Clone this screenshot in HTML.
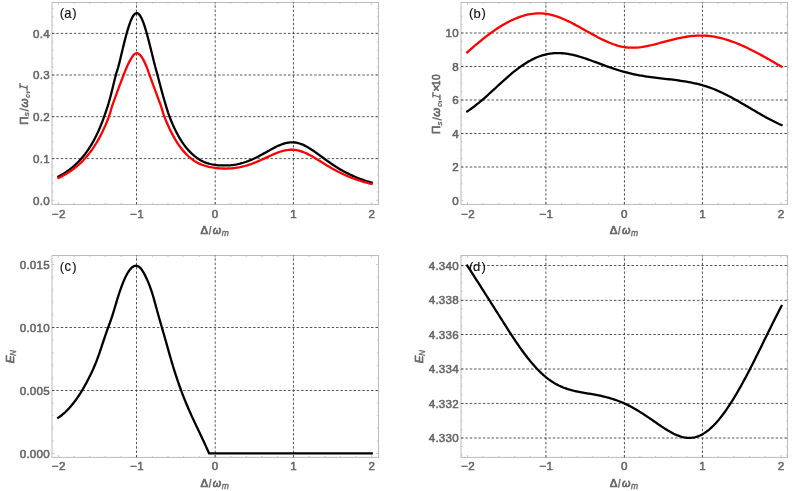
<!DOCTYPE html>
<html><head><meta charset="utf-8"><title>Figure</title>
<style>
html,body{margin:0;padding:0;background:#fff;}
svg{display:block;will-change:transform;}
text{font-family:"Liberation Sans",sans-serif;}
.grid{fill:none;stroke:#2c2c2c;stroke-width:0.8;stroke-dasharray:2.45 1.92;}
.tick{fill:none;stroke:#bebebe;stroke-width:0.8;}
.frame{fill:none;stroke:#bbbbbb;stroke-width:1;}
.tl{font-size:11.6px;fill:#666666;stroke:#666666;stroke-width:0.55;stroke-linejoin:round;letter-spacing:0.2px;}
.al{fill:#666666;stroke:#666666;stroke-width:0.7;stroke-linejoin:round;}
.sb{stroke-width:0.35;}
.tag{font-size:13px;fill:#111;stroke:#111;stroke-width:0.15;stroke-linejoin:round;}
</style></head>
<body>
<svg width="793" height="491" viewBox="0 0 793 491">
<rect width="793" height="491" fill="#ffffff"/>
<g>
<path d="M58.35 204.40v-2.4M58.35 2.50v2.4M74.02 204.40v-1.5M74.02 2.50v1.5M89.69 204.40v-1.5M89.69 2.50v1.5M105.35 204.40v-1.5M105.35 2.50v1.5M121.02 204.40v-1.5M121.02 2.50v1.5M136.69 204.40v-2.4M136.69 2.50v2.4M152.36 204.40v-1.5M152.36 2.50v1.5M168.03 204.40v-1.5M168.03 2.50v1.5M183.69 204.40v-1.5M183.69 2.50v1.5M199.36 204.40v-1.5M199.36 2.50v1.5M215.03 204.40v-2.4M215.03 2.50v2.4M230.70 204.40v-1.5M230.70 2.50v1.5M246.37 204.40v-1.5M246.37 2.50v1.5M262.03 204.40v-1.5M262.03 2.50v1.5M277.70 204.40v-1.5M277.70 2.50v1.5M293.37 204.40v-2.4M293.37 2.50v2.4M309.04 204.40v-1.5M309.04 2.50v1.5M324.71 204.40v-1.5M324.71 2.50v1.5M340.37 204.40v-1.5M340.37 2.50v1.5M356.04 204.40v-1.5M356.04 2.50v1.5M371.71 204.40v-2.4M371.71 2.50v2.4M52.00 200.30h2.4M378.50 200.30h-2.4M52.00 191.95h1.5M378.50 191.95h-1.5M52.00 183.61h1.5M378.50 183.61h-1.5M52.00 175.26h1.5M378.50 175.26h-1.5M52.00 166.92h1.5M378.50 166.92h-1.5M52.00 158.57h2.4M378.50 158.57h-2.4M52.00 150.22h1.5M378.50 150.22h-1.5M52.00 141.88h1.5M378.50 141.88h-1.5M52.00 133.53h1.5M378.50 133.53h-1.5M52.00 125.19h1.5M378.50 125.19h-1.5M52.00 116.84h2.4M378.50 116.84h-2.4M52.00 108.49h1.5M378.50 108.49h-1.5M52.00 100.15h1.5M378.50 100.15h-1.5M52.00 91.80h1.5M378.50 91.80h-1.5M52.00 83.46h1.5M378.50 83.46h-1.5M52.00 75.11h2.4M378.50 75.11h-2.4M52.00 66.76h1.5M378.50 66.76h-1.5M52.00 58.42h1.5M378.50 58.42h-1.5M52.00 50.07h1.5M378.50 50.07h-1.5M52.00 41.73h1.5M378.50 41.73h-1.5M52.00 33.38h2.4M378.50 33.38h-2.4M52.00 25.03h1.5M378.50 25.03h-1.5M52.00 16.69h1.5M378.50 16.69h-1.5M52.00 8.34h1.5M378.50 8.34h-1.5" class="tick"/>
<rect x="52.00" y="2.50" width="326.50" height="201.90" class="frame"/>
<path d="M136.50 204.40V2.50M215.20 204.40V2.50M293.45 204.40V2.50M52.00 158.60H378.50M52.00 116.65H378.50M52.00 75.00H378.50M52.00 33.40H378.50" class="grid"/>
<path d="M58.50 176.62 L60.07 175.74 L61.63 174.83 L63.20 173.88 L64.76 172.89 L66.33 171.84 L67.89 170.75 L69.46 169.60 L71.02 168.39 L72.59 167.12 L74.16 165.78 L75.72 164.37 L77.29 162.88 L78.85 161.30 L80.42 159.63 L81.98 157.86 L83.55 155.98 L85.11 153.99 L86.68 151.88 L88.24 149.63 L89.81 147.24 L91.38 144.69 L92.94 141.98 L94.51 139.09 L96.07 136.02 L97.64 132.74 L99.20 129.24 L100.77 125.51 L102.33 121.55 L103.90 117.33 L105.47 112.92 L107.03 108.30 L108.60 103.31 L110.16 97.74 L111.73 91.66 L113.29 85.28 L114.86 78.83 L116.42 72.89 L117.99 67.98 L119.55 62.16 L121.12 55.54 L122.69 48.99 L124.25 42.62 L125.82 36.56 L127.38 30.93 L128.95 25.82 L130.51 21.39 L132.08 17.79 L133.64 15.14 L135.21 13.54 L136.78 13.06 L138.34 13.69 L139.91 15.39 L141.47 18.10 L143.04 21.72 L144.60 26.15 L146.17 31.25 L147.73 36.89 L149.30 42.92 L150.86 49.20 L152.43 55.59 L154.00 61.98 L155.56 68.01 L157.13 73.57 L158.69 79.58 L160.26 85.57 L161.82 91.41 L163.39 97.04 L164.95 102.40 L166.52 107.56 L168.09 112.56 L169.65 117.01 L171.22 120.96 L172.78 124.65 L174.35 128.10 L175.91 131.31 L177.48 134.31 L179.04 137.11 L180.61 139.71 L182.17 142.13 L183.74 144.38 L185.31 146.47 L186.87 148.41 L188.44 150.21 L190.00 151.88 L191.57 153.43 L193.13 154.87 L194.70 156.19 L196.26 157.42 L197.83 158.55 L199.40 159.57 L200.96 160.47 L202.53 161.27 L204.09 161.97 L205.66 162.59 L207.22 163.13 L208.79 163.59 L210.35 164.00 L211.92 164.35 L213.48 164.65 L215.05 164.91 L216.62 165.12 L218.18 165.26 L219.75 165.35 L221.31 165.41 L222.88 165.43 L224.44 165.44 L226.01 165.45 L227.57 165.42 L229.14 165.34 L230.71 165.23 L232.27 165.06 L233.84 164.86 L235.40 164.61 L236.97 164.32 L238.53 163.99 L240.10 163.62 L241.66 163.20 L243.23 162.75 L244.79 162.25 L246.36 161.72 L247.93 161.15 L249.49 160.53 L251.06 159.88 L252.62 159.20 L254.19 158.48 L255.75 157.73 L257.32 156.95 L258.88 156.15 L260.45 155.33 L262.01 154.49 L263.58 153.63 L265.15 152.76 L266.71 151.89 L268.28 151.01 L269.84 150.14 L271.41 149.27 L272.97 148.43 L274.54 147.61 L276.10 146.81 L277.67 146.06 L279.24 145.36 L280.80 144.71 L282.37 144.13 L283.93 143.61 L285.50 143.18 L287.06 142.83 L288.63 142.57 L290.19 142.40 L291.76 142.33 L293.33 142.36 L294.89 142.50 L296.46 142.73 L298.02 143.07 L299.59 143.51 L301.15 144.05 L302.72 144.67 L304.28 145.38 L305.85 146.17 L307.41 147.02 L308.98 147.94 L310.55 148.92 L312.11 149.94 L313.68 151.00 L315.24 152.10 L316.81 153.21 L318.37 154.35 L319.94 155.50 L321.50 156.65 L323.07 157.80 L324.63 158.95 L326.20 160.08 L327.77 161.21 L329.33 162.31 L330.90 163.40 L332.46 164.47 L334.03 165.51 L335.59 166.52 L337.16 167.51 L338.72 168.47 L340.29 169.41 L341.86 170.31 L343.42 171.19 L344.99 172.04 L346.55 172.86 L348.12 173.65 L349.68 174.42 L351.25 175.16 L352.81 175.87 L354.38 176.56 L355.95 177.22 L357.51 177.86 L359.08 178.48 L360.64 179.07 L362.21 179.64 L363.77 180.19 L365.34 180.72 L366.90 181.23 L368.47 181.72 L370.03 182.20 L371.60 182.65" fill="none" stroke="#000000" stroke-width="2.3" stroke-linejoin="round" stroke-linecap="square"/>
<path d="M58.50 178.07 L60.07 177.28 L61.63 176.46 L63.20 175.60 L64.76 174.72 L66.33 173.79 L67.89 172.82 L69.46 171.81 L71.02 170.75 L72.59 169.64 L74.16 168.47 L75.72 167.24 L77.29 165.94 L78.85 164.57 L80.42 163.13 L81.98 161.60 L83.55 159.98 L85.11 158.27 L86.68 156.47 L88.24 154.59 L89.81 152.61 L91.38 150.52 L92.94 148.32 L94.51 145.98 L96.07 143.50 L97.64 140.86 L99.20 138.07 L100.77 135.10 L102.33 131.96 L103.90 128.62 L105.47 125.10 L107.03 121.37 L108.60 117.45 L110.16 112.90 L111.73 107.23 L113.29 102.66 L114.86 98.36 L116.42 94.11 L117.99 89.90 L119.55 85.70 L121.12 81.53 L122.69 77.37 L124.25 73.26 L125.82 69.37 L127.38 65.81 L128.95 62.61 L130.51 59.63 L132.08 56.98 L133.64 54.89 L135.21 53.57 L136.78 53.21 L138.34 53.67 L139.91 54.84 L141.47 56.67 L143.04 59.13 L144.60 62.16 L146.17 65.71 L147.73 69.89 L149.30 74.27 L150.86 78.55 L152.43 82.86 L154.00 87.15 L155.56 91.42 L157.13 95.65 L158.69 99.84 L160.26 103.99 L161.82 108.62 L163.39 113.88 L164.95 118.18 L166.52 121.96 L168.09 125.55 L169.65 128.93 L171.22 132.12 L172.78 135.12 L174.35 137.94 L175.91 140.58 L177.48 143.05 L179.04 145.36 L180.61 147.51 L182.17 149.52 L183.74 151.39 L185.31 153.13 L186.87 154.74 L188.44 156.24 L190.00 157.63 L191.57 158.90 L193.13 160.06 L194.70 161.11 L196.26 162.06 L197.83 162.91 L199.40 163.67 L200.96 164.35 L202.53 164.95 L204.09 165.49 L205.66 165.97 L207.22 166.40 L208.79 166.77 L210.35 167.10 L211.92 167.40 L213.48 167.66 L215.05 167.89 L216.62 168.09 L218.18 168.24 L219.75 168.35 L221.31 168.43 L222.88 168.48 L224.44 168.51 L226.01 168.53 L227.57 168.51 L229.14 168.46 L230.71 168.37 L232.27 168.25 L233.84 168.09 L235.40 167.89 L236.97 167.66 L238.53 167.40 L240.10 167.10 L241.66 166.76 L243.23 166.39 L244.79 165.99 L246.36 165.55 L247.93 165.08 L249.49 164.58 L251.06 164.05 L252.62 163.48 L254.19 162.89 L255.75 162.27 L257.32 161.63 L258.88 160.97 L260.45 160.28 L262.01 159.57 L263.58 158.86 L265.15 158.13 L266.71 157.40 L268.28 156.66 L269.84 155.94 L271.41 155.22 L272.97 154.52 L274.54 153.85 L276.10 153.20 L277.67 152.59 L279.24 152.02 L280.80 151.50 L282.37 151.03 L283.93 150.63 L285.50 150.29 L287.06 150.02 L288.63 149.84 L290.19 149.73 L291.76 149.70 L293.33 149.76 L294.89 149.90 L296.46 150.13 L298.02 150.45 L299.59 150.84 L301.15 151.31 L302.72 151.86 L304.28 152.47 L305.85 153.15 L307.41 153.89 L308.98 154.67 L310.55 155.50 L312.11 156.37 L313.68 157.28 L315.24 158.20 L316.81 159.15 L318.37 160.11 L319.94 161.08 L321.50 162.05 L323.07 163.02 L324.63 163.99 L326.20 164.95 L327.77 165.89 L329.33 166.82 L330.90 167.73 L332.46 168.63 L334.03 169.50 L335.59 170.35 L337.16 171.19 L338.72 171.99 L340.29 172.78 L341.86 173.54 L343.42 174.27 L344.99 174.99 L346.55 175.68 L348.12 176.34 L349.68 176.99 L351.25 177.61 L352.81 178.21 L354.38 178.79 L355.95 179.34 L357.51 179.88 L359.08 180.40 L360.64 180.90 L362.21 181.38 L363.77 181.84 L365.34 182.28 L366.90 182.71 L368.47 183.13 L370.03 183.52 L371.60 183.91" fill="none" stroke="#ff0000" stroke-width="2.3" stroke-linejoin="round" stroke-linecap="square"/>
<text x="49.8" y="204.5" text-anchor="end" class="tl">0.0</text>
<text x="49.8" y="162.8" text-anchor="end" class="tl">0.1</text>
<text x="49.8" y="121.0" text-anchor="end" class="tl">0.2</text>
<text x="49.8" y="79.3" text-anchor="end" class="tl">0.3</text>
<text x="49.8" y="37.6" text-anchor="end" class="tl">0.4</text>
<text x="58.8" y="217.7" text-anchor="middle" class="tl">−2</text>
<text x="137.1" y="217.7" text-anchor="middle" class="tl">−1</text>
<text x="215.1" y="217.7" text-anchor="middle" class="tl">0</text>
<text x="293.5" y="217.7" text-anchor="middle" class="tl">1</text>
<text x="371.8" y="217.7" text-anchor="middle" class="tl">2</text>
<g transform="translate(200.80 234.10)"><text transform="translate(-0.34 0.00)" font-size="11.5" class="al">Δ</text><path d="M8.00 0.30h1.05L10.60 -8.00h-1.05Z" fill="#666666" stroke="#666666" stroke-width="0.25"/><text transform="translate(11.97 0.00) scale(0.94 1)" font-size="11.5" font-style="italic" class="al">ω</text><text transform="translate(21.07 1.80)" font-size="8.5" font-style="italic" class="al sb">m</text></g>
<g transform="translate(27.50 123.80) rotate(-90)"><text transform="translate(-0.92 0.00)" font-size="11.5" class="al">Π</text><text transform="translate(7.51 1.60)" font-size="8" font-style="italic" class="al sb">s</text><path d="M12.40 1.20h1.1L15.90 -7.90h-1.1Z" fill="#666666" stroke="#666666" stroke-width="0.25"/><text transform="translate(16.20 0.00)" font-size="11.5" font-style="italic" class="al">ω</text><text transform="translate(26.14 2.00)" font-size="7.5" font-style="italic" class="al sb">c</text><text transform="translate(29.77 0.00)" font-size="11.5" class="al">,</text><path d="M33.00 -0.45h5.4M35.50 -7.5h5.4M35.75 -0.45L38.00 -7.5" fill="none" stroke="#666666" stroke-width="1.3" stroke-linecap="butt"/></g>
<text x="59.72" y="17.4" class="tag">(</text><text transform="translate(64.20 18.15) scale(1 1.1)" class="tag">a</text><text x="72.37" y="17.4" class="tag">)</text>
</g>
<g>
<path d="M467.56 204.40v-2.4M467.56 2.50v2.4M483.23 204.40v-1.5M483.23 2.50v1.5M498.90 204.40v-1.5M498.90 2.50v1.5M514.56 204.40v-1.5M514.56 2.50v1.5M530.23 204.40v-1.5M530.23 2.50v1.5M545.90 204.40v-2.4M545.90 2.50v2.4M561.57 204.40v-1.5M561.57 2.50v1.5M577.24 204.40v-1.5M577.24 2.50v1.5M592.90 204.40v-1.5M592.90 2.50v1.5M608.57 204.40v-1.5M608.57 2.50v1.5M624.24 204.40v-2.4M624.24 2.50v2.4M639.91 204.40v-1.5M639.91 2.50v1.5M655.58 204.40v-1.5M655.58 2.50v1.5M671.24 204.40v-1.5M671.24 2.50v1.5M686.91 204.40v-1.5M686.91 2.50v1.5M702.58 204.40v-2.4M702.58 2.50v2.4M718.25 204.40v-1.5M718.25 2.50v1.5M733.92 204.40v-1.5M733.92 2.50v1.5M749.58 204.40v-1.5M749.58 2.50v1.5M765.25 204.40v-1.5M765.25 2.50v1.5M780.92 204.40v-2.4M780.92 2.50v2.4M461.00 200.50h2.4M787.50 200.50h-2.4M461.00 192.12h1.5M787.50 192.12h-1.5M461.00 183.75h1.5M787.50 183.75h-1.5M461.00 175.38h1.5M787.50 175.38h-1.5M461.00 167.00h2.4M787.50 167.00h-2.4M461.00 158.62h1.5M787.50 158.62h-1.5M461.00 150.25h1.5M787.50 150.25h-1.5M461.00 141.88h1.5M787.50 141.88h-1.5M461.00 133.50h2.4M787.50 133.50h-2.4M461.00 125.12h1.5M787.50 125.12h-1.5M461.00 116.75h1.5M787.50 116.75h-1.5M461.00 108.38h1.5M787.50 108.38h-1.5M461.00 100.00h2.4M787.50 100.00h-2.4M461.00 91.62h1.5M787.50 91.62h-1.5M461.00 83.25h1.5M787.50 83.25h-1.5M461.00 74.88h1.5M787.50 74.88h-1.5M461.00 66.50h2.4M787.50 66.50h-2.4M461.00 58.12h1.5M787.50 58.12h-1.5M461.00 49.75h1.5M787.50 49.75h-1.5M461.00 41.38h1.5M787.50 41.38h-1.5M461.00 33.00h2.4M787.50 33.00h-2.4M461.00 24.62h1.5M787.50 24.62h-1.5M461.00 16.25h1.5M787.50 16.25h-1.5M461.00 7.88h1.5M787.50 7.88h-1.5" class="tick"/>
<rect x="461.00" y="2.50" width="326.50" height="201.90" class="frame"/>
<path d="M545.90 204.40V2.50M624.45 204.40V2.50M702.45 204.40V2.50M461.00 167.00H787.50M461.00 133.50H787.50M461.00 100.00H787.50M461.00 66.50H787.50M461.00 33.00H787.50" class="grid"/>
<path d="M467.20 52.40 L469.18 50.64 L471.15 48.89 L473.13 47.17 L475.11 45.47 L477.08 43.79 L479.06 42.14 L481.04 40.52 L483.01 38.93 L484.99 37.38 L486.97 35.85 L488.94 34.36 L490.92 32.91 L492.90 31.50 L494.87 30.12 L496.85 28.79 L498.83 27.50 L500.80 26.25 L502.78 25.06 L504.76 23.91 L506.73 22.81 L508.71 21.76 L510.69 20.77 L512.66 19.83 L514.64 18.94 L516.62 18.12 L518.59 17.35 L520.57 16.65 L522.55 16.01 L524.53 15.44 L526.50 14.93 L528.48 14.49 L530.46 14.12 L532.43 13.82 L534.41 13.59 L536.39 13.44 L538.36 13.37 L540.34 13.37 L542.32 13.45 L544.29 13.62 L546.27 13.87 L548.25 14.20 L550.22 14.61 L552.20 15.09 L554.18 15.64 L556.15 16.26 L558.13 16.94 L560.11 17.68 L562.08 18.47 L564.06 19.31 L566.04 20.20 L568.01 21.12 L569.99 22.09 L571.97 23.09 L573.94 24.11 L575.92 25.16 L577.90 26.23 L579.87 27.32 L581.85 28.42 L583.83 29.52 L585.80 30.63 L587.78 31.74 L589.76 32.85 L591.73 33.95 L593.71 35.03 L595.69 36.10 L597.66 37.15 L599.64 38.17 L601.62 39.16 L603.59 40.12 L605.57 41.04 L607.55 41.92 L609.52 42.75 L611.50 43.53 L613.48 44.26 L615.45 44.93 L617.43 45.54 L619.41 46.08 L621.38 46.55 L623.36 46.94 L625.34 47.26 L627.32 47.49 L629.29 47.65 L631.27 47.72 L633.25 47.72 L635.22 47.66 L637.20 47.53 L639.18 47.34 L641.15 47.10 L643.13 46.81 L645.11 46.48 L647.08 46.10 L649.06 45.69 L651.04 45.25 L653.01 44.78 L654.99 44.29 L656.97 43.78 L658.94 43.26 L660.92 42.73 L662.90 42.20 L664.87 41.67 L666.85 41.14 L668.83 40.63 L670.80 40.12 L672.78 39.62 L674.76 39.14 L676.73 38.68 L678.71 38.24 L680.69 37.83 L682.66 37.44 L684.64 37.08 L686.62 36.75 L688.59 36.45 L690.57 36.19 L692.55 35.97 L694.52 35.79 L696.50 35.66 L698.48 35.57 L700.45 35.53 L702.43 35.55 L704.41 35.62 L706.38 35.74 L708.36 35.91 L710.34 36.14 L712.31 36.41 L714.29 36.73 L716.27 37.10 L718.24 37.51 L720.22 37.97 L722.20 38.47 L724.17 39.01 L726.15 39.59 L728.13 40.21 L730.11 40.87 L732.08 41.56 L734.06 42.29 L736.04 43.05 L738.01 43.84 L739.99 44.67 L741.97 45.52 L743.94 46.40 L745.92 47.31 L747.90 48.24 L749.87 49.20 L751.85 50.18 L753.83 51.18 L755.80 52.20 L757.78 53.24 L759.76 54.30 L761.73 55.37 L763.71 56.46 L765.69 57.56 L767.66 58.68 L769.64 59.80 L771.62 60.94 L773.59 62.08 L775.57 63.23 L777.55 64.39 L779.52 65.55 L781.50 66.71" fill="none" stroke="#ff0000" stroke-width="2.3" stroke-linejoin="round" stroke-linecap="square"/>
<path d="M467.20 111.42 L469.18 110.11 L471.15 108.73 L473.13 107.29 L475.11 105.78 L477.08 104.22 L479.06 102.61 L481.04 100.95 L483.01 99.26 L484.99 97.53 L486.97 95.77 L488.94 93.99 L490.92 92.19 L492.90 90.38 L494.87 88.56 L496.85 86.74 L498.83 84.92 L500.80 83.11 L502.78 81.31 L504.76 79.54 L506.73 77.78 L508.71 76.06 L510.69 74.38 L512.66 72.73 L514.64 71.13 L516.62 69.58 L518.59 68.09 L520.57 66.65 L522.55 65.27 L524.53 63.95 L526.50 62.70 L528.48 61.52 L530.46 60.41 L532.43 59.37 L534.41 58.42 L536.39 57.54 L538.36 56.74 L540.34 56.03 L542.32 55.39 L544.29 54.84 L546.27 54.36 L548.25 53.95 L550.22 53.63 L552.20 53.38 L554.18 53.20 L556.15 53.10 L558.13 53.08 L560.11 53.13 L562.08 53.24 L564.06 53.42 L566.04 53.66 L568.01 53.96 L569.99 54.31 L571.97 54.71 L573.94 55.16 L575.92 55.65 L577.90 56.19 L579.87 56.76 L581.85 57.36 L583.83 57.99 L585.80 58.65 L587.78 59.33 L589.76 60.03 L591.73 60.74 L593.71 61.47 L595.69 62.20 L597.66 62.94 L599.64 63.68 L601.62 64.42 L603.59 65.15 L605.57 65.88 L607.55 66.59 L609.52 67.28 L611.50 67.96 L613.48 68.63 L615.45 69.27 L617.43 69.90 L619.41 70.50 L621.38 71.09 L623.36 71.66 L625.34 72.20 L627.32 72.72 L629.29 73.21 L631.27 73.69 L633.25 74.13 L635.22 74.55 L637.20 74.94 L639.18 75.31 L641.15 75.66 L643.13 75.99 L645.11 76.30 L647.08 76.59 L649.06 76.87 L651.04 77.14 L653.01 77.40 L654.99 77.64 L656.97 77.88 L658.94 78.11 L660.92 78.34 L662.90 78.57 L664.87 78.79 L666.85 79.02 L668.83 79.25 L670.80 79.48 L672.78 79.72 L674.76 79.97 L676.73 80.22 L678.71 80.49 L680.69 80.77 L682.66 81.07 L684.64 81.38 L686.62 81.72 L688.59 82.07 L690.57 82.44 L692.55 82.84 L694.52 83.26 L696.50 83.71 L698.48 84.19 L700.45 84.70 L702.43 85.25 L704.41 85.82 L706.38 86.44 L708.36 87.09 L710.34 87.78 L712.31 88.51 L714.29 89.28 L716.27 90.09 L718.24 90.95 L720.22 91.84 L722.20 92.76 L724.17 93.72 L726.15 94.70 L728.13 95.71 L730.11 96.75 L732.08 97.81 L734.06 98.89 L736.04 99.99 L738.01 101.11 L739.99 102.24 L741.97 103.38 L743.94 104.53 L745.92 105.69 L747.90 106.85 L749.87 108.01 L751.85 109.18 L753.83 110.34 L755.80 111.49 L757.78 112.64 L759.76 113.79 L761.73 114.92 L763.71 116.03 L765.69 117.14 L767.66 118.22 L769.64 119.28 L771.62 120.32 L773.59 121.34 L775.57 122.33 L777.55 123.28 L779.52 124.21 L781.50 125.10" fill="none" stroke="#000000" stroke-width="2.3" stroke-linejoin="round" stroke-linecap="square"/>
<text x="458.8" y="204.7" text-anchor="end" class="tl">0</text>
<text x="458.8" y="171.2" text-anchor="end" class="tl">2</text>
<text x="458.8" y="137.7" text-anchor="end" class="tl">4</text>
<text x="458.8" y="104.2" text-anchor="end" class="tl">6</text>
<text x="458.8" y="70.7" text-anchor="end" class="tl">8</text>
<text x="458.8" y="37.2" text-anchor="end" class="tl">10</text>
<text x="468.0" y="217.7" text-anchor="middle" class="tl">−2</text>
<text x="546.3" y="217.7" text-anchor="middle" class="tl">−1</text>
<text x="624.3" y="217.7" text-anchor="middle" class="tl">0</text>
<text x="702.7" y="217.7" text-anchor="middle" class="tl">1</text>
<text x="781.0" y="217.7" text-anchor="middle" class="tl">2</text>
<g transform="translate(610.00 234.10)"><text transform="translate(-0.34 0.00)" font-size="11.5" class="al">Δ</text><path d="M8.00 0.30h1.05L10.60 -8.00h-1.05Z" fill="#666666" stroke="#666666" stroke-width="0.25"/><text transform="translate(11.97 0.00) scale(0.94 1)" font-size="11.5" font-style="italic" class="al">ω</text><text transform="translate(21.07 1.80)" font-size="8.5" font-style="italic" class="al sb">m</text></g>
<g transform="translate(440.40 133.00) rotate(-90)"><text transform="translate(-0.92 0.00)" font-size="11.5" class="al">Π</text><text transform="translate(7.51 1.60)" font-size="8" font-style="italic" class="al sb">s</text><path d="M12.40 1.20h1.1L15.90 -7.90h-1.1Z" fill="#666666" stroke="#666666" stroke-width="0.25"/><text transform="translate(16.20 0.00)" font-size="11.5" font-style="italic" class="al">ω</text><text transform="translate(26.14 2.00)" font-size="7.5" font-style="italic" class="al sb">c</text><text transform="translate(29.77 0.00)" font-size="11.5" class="al">,</text><path d="M33.00 -0.45h5.4M35.50 -7.5h5.4M35.75 -0.45L38.00 -7.5" fill="none" stroke="#666666" stroke-width="1.3" stroke-linecap="butt"/><text transform="translate(41.40 0.00)" font-size="11.5" class="al">×</text><text transform="translate(47.21 0.00) scale(0.8 1)" font-size="11.5" class="al">1</text><text transform="translate(52.90 0.00) scale(0.88 1)" font-size="11.5" class="al">0</text></g>
<text x="468.92" y="17.4" class="tag">(</text><text transform="translate(473.55 18.15) scale(1 1.035)" class="tag">b</text><text x="481.57" y="17.4" class="tag">)</text>
</g>
<g>
<path d="M58.35 457.40v-2.4M58.35 255.50v2.4M74.02 457.40v-1.5M74.02 255.50v1.5M89.69 457.40v-1.5M89.69 255.50v1.5M105.35 457.40v-1.5M105.35 255.50v1.5M121.02 457.40v-1.5M121.02 255.50v1.5M136.69 457.40v-2.4M136.69 255.50v2.4M152.36 457.40v-1.5M152.36 255.50v1.5M168.03 457.40v-1.5M168.03 255.50v1.5M183.69 457.40v-1.5M183.69 255.50v1.5M199.36 457.40v-1.5M199.36 255.50v1.5M215.03 457.40v-2.4M215.03 255.50v2.4M230.70 457.40v-1.5M230.70 255.50v1.5M246.37 457.40v-1.5M246.37 255.50v1.5M262.03 457.40v-1.5M262.03 255.50v1.5M277.70 457.40v-1.5M277.70 255.50v1.5M293.37 457.40v-2.4M293.37 255.50v2.4M309.04 457.40v-1.5M309.04 255.50v1.5M324.71 457.40v-1.5M324.71 255.50v1.5M340.37 457.40v-1.5M340.37 255.50v1.5M356.04 457.40v-1.5M356.04 255.50v1.5M371.71 457.40v-2.4M371.71 255.50v2.4M52.00 453.50h2.4M378.50 453.50h-2.4M52.00 440.90h1.5M378.50 440.90h-1.5M52.00 428.30h1.5M378.50 428.30h-1.5M52.00 415.70h1.5M378.50 415.70h-1.5M52.00 403.10h1.5M378.50 403.10h-1.5M52.00 390.50h2.4M378.50 390.50h-2.4M52.00 377.90h1.5M378.50 377.90h-1.5M52.00 365.30h1.5M378.50 365.30h-1.5M52.00 352.70h1.5M378.50 352.70h-1.5M52.00 340.10h1.5M378.50 340.10h-1.5M52.00 327.50h2.4M378.50 327.50h-2.4M52.00 314.90h1.5M378.50 314.90h-1.5M52.00 302.30h1.5M378.50 302.30h-1.5M52.00 289.70h1.5M378.50 289.70h-1.5M52.00 277.10h1.5M378.50 277.10h-1.5M52.00 264.50h2.4M378.50 264.50h-2.4" class="tick"/>
<rect x="52.00" y="255.50" width="326.50" height="201.90" class="frame"/>
<path d="M136.50 457.40V255.50M215.20 457.40V255.50M293.45 457.40V255.50M52.00 390.50H378.50M52.00 327.50H378.50" class="grid"/>
<path d="M58.20 417.76 L58.83 417.33 L59.46 416.89 L60.09 416.44 L60.73 415.96 L61.36 415.48 L61.99 414.98 L62.62 414.46 L63.25 413.92 L63.88 413.37 L64.51 412.81 L65.15 412.23 L65.78 411.63 L66.41 411.02 L67.04 410.39 L67.67 409.75 L68.30 409.09 L68.93 408.41 L69.56 407.71 L70.20 407.00 L70.83 406.28 L71.46 405.53 L72.09 404.77 L72.72 404.00 L73.35 403.20 L73.98 402.39 L74.62 401.56 L75.25 400.72 L75.88 399.85 L76.51 398.97 L77.14 398.08 L77.77 397.16 L78.40 396.23 L79.04 395.28 L79.67 394.31 L80.30 393.32 L80.93 392.32 L81.56 391.30 L82.19 390.26 L82.82 389.20 L83.46 388.12 L84.09 387.02 L84.72 385.91 L85.35 384.78 L85.98 383.63 L86.61 382.46 L87.24 381.27 L87.87 380.06 L88.51 378.83 L89.14 377.59 L89.77 376.32 L90.40 375.04 L91.03 373.73 L91.66 372.40 L92.29 371.04 L92.93 369.65 L93.56 368.23 L94.19 366.77 L94.82 365.28 L95.45 363.75 L96.08 362.18 L96.71 360.57 L97.35 358.91 L97.98 357.20 L98.61 355.45 L99.24 353.65 L99.87 351.81 L100.50 349.94 L101.13 348.05 L101.77 346.14 L102.40 344.23 L103.03 342.32 L103.66 340.42 L104.29 338.53 L104.92 336.67 L105.55 334.83 L106.18 333.02 L106.82 331.23 L107.45 329.46 L108.08 327.72 L108.71 325.99 L109.34 324.26 L109.97 322.52 L110.60 320.75 L111.24 318.94 L111.87 317.06 L112.50 315.12 L113.13 313.11 L113.76 311.06 L114.39 308.97 L115.02 306.86 L115.66 304.74 L116.29 302.62 L116.92 300.52 L117.55 298.45 L118.18 296.42 L118.81 294.44 L119.44 292.51 L120.08 290.64 L120.71 288.83 L121.34 287.07 L121.97 285.38 L122.60 283.74 L123.23 282.17 L123.86 280.66 L124.49 279.22 L125.13 277.84 L125.76 276.54 L126.39 275.29 L127.02 274.12 L127.65 273.02 L128.28 272.00 L128.91 271.04 L129.55 270.16 L130.18 269.36 L130.81 268.63 L131.44 267.99 L132.07 267.42 L132.70 266.94 L133.33 266.53 L133.97 266.21 L134.60 265.98 L135.23 265.83 L135.86 265.77 L136.49 265.80 L137.12 265.92 L137.75 266.13 L138.39 266.43 L139.02 266.83 L139.65 267.32 L140.28 267.91 L140.91 268.60 L141.54 269.39 L142.17 270.28 L142.81 271.26 L143.44 272.31 L144.07 273.44 L144.70 274.63 L145.33 275.88 L145.96 277.17 L146.59 278.50 L147.22 279.89 L147.86 281.34 L148.49 282.86 L149.12 284.43 L149.75 286.08 L150.38 287.80 L151.01 289.61 L151.64 291.49 L152.28 293.46 L152.91 295.53 L153.54 297.69 L154.17 299.93 L154.80 302.24 L155.43 304.57 L156.06 306.90 L156.70 309.22 L157.33 311.50 L157.96 313.77 L158.59 316.01 L159.22 318.23 L159.85 320.43 L160.48 322.62 L161.12 324.80 L161.75 326.97 L162.38 329.15 L163.01 331.32 L163.64 333.50 L164.27 335.70 L164.90 337.91 L165.53 340.14 L166.17 342.39 L166.80 344.64 L167.43 346.90 L168.06 349.16 L168.69 351.41 L169.32 353.65 L169.95 355.86 L170.59 358.05 L171.22 360.21 L171.85 362.35 L172.48 364.45 L173.11 366.53 L173.74 368.57 L174.37 370.59 L175.01 372.58 L175.64 374.55 L176.27 376.48 L176.90 378.39 L177.53 380.27 L178.16 382.12 L178.79 383.94 L179.43 385.74 L180.06 387.51 L180.69 389.25 L181.32 390.96 L181.95 392.64 L182.58 394.30 L183.21 395.94 L183.84 397.55 L184.48 399.14 L185.11 400.70 L185.74 402.24 L186.37 403.77 L187.00 405.27 L187.63 406.76 L188.26 408.23 L188.90 409.68 L189.53 411.12 L190.16 412.54 L190.79 413.95 L191.42 415.35 L192.05 416.73 L192.68 418.11 L193.32 419.48 L193.95 420.83 L194.58 422.19 L195.21 423.53 L195.84 424.87 L196.47 426.20 L197.10 427.53 L197.74 428.86 L198.37 430.19 L199.00 431.51 L199.63 432.84 L200.26 434.17 L200.89 435.50 L201.52 436.83 L202.15 438.17 L202.79 439.51 L203.42 440.86 L204.05 442.22 L204.68 443.58 L205.31 444.96 L205.94 446.34 L206.57 447.74 L207.21 449.15 L207.84 450.57 L208.47 452.00 L209.10 453.45 L371.7 453.45" fill="none" stroke="#000000" stroke-width="2.3" stroke-linejoin="round" stroke-linecap="square"/>
<text x="49.8" y="457.7" text-anchor="end" class="tl">0.000</text>
<text x="49.8" y="394.7" text-anchor="end" class="tl">0.005</text>
<text x="49.8" y="331.7" text-anchor="end" class="tl">0.010</text>
<text x="49.8" y="268.7" text-anchor="end" class="tl">0.015</text>
<text x="58.8" y="470.2" text-anchor="middle" class="tl">−2</text>
<text x="137.1" y="470.2" text-anchor="middle" class="tl">−1</text>
<text x="215.1" y="470.2" text-anchor="middle" class="tl">0</text>
<text x="293.5" y="470.2" text-anchor="middle" class="tl">1</text>
<text x="371.8" y="470.2" text-anchor="middle" class="tl">2</text>
<g transform="translate(200.80 487.10)"><text transform="translate(-0.34 0.00)" font-size="11.5" class="al">Δ</text><path d="M8.00 0.30h1.05L10.60 -8.00h-1.05Z" fill="#666666" stroke="#666666" stroke-width="0.25"/><text transform="translate(11.97 0.00) scale(0.94 1)" font-size="11.5" font-style="italic" class="al">ω</text><text transform="translate(21.07 1.80)" font-size="8.5" font-style="italic" class="al sb">m</text></g>
<g transform="translate(14.00 362.80) rotate(-90)"><text transform="translate(-0.34 0.00)" font-size="11.5" font-style="italic" class="al">E</text><text transform="translate(7.07 2.00) scale(0.9 1)" font-size="8.5" font-style="italic" class="al sb">N</text></g>
<text x="59.72" y="270.6" class="tag">(</text><text transform="translate(64.40 271.35) scale(1 1.1)" class="tag">c</text><text x="72.37" y="270.6" class="tag">)</text>
</g>
<g>
<path d="M467.56 457.40v-2.4M467.56 255.50v2.4M483.23 457.40v-1.5M483.23 255.50v1.5M498.90 457.40v-1.5M498.90 255.50v1.5M514.56 457.40v-1.5M514.56 255.50v1.5M530.23 457.40v-1.5M530.23 255.50v1.5M545.90 457.40v-2.4M545.90 255.50v2.4M561.57 457.40v-1.5M561.57 255.50v1.5M577.24 457.40v-1.5M577.24 255.50v1.5M592.90 457.40v-1.5M592.90 255.50v1.5M608.57 457.40v-1.5M608.57 255.50v1.5M624.24 457.40v-2.4M624.24 255.50v2.4M639.91 457.40v-1.5M639.91 255.50v1.5M655.58 457.40v-1.5M655.58 255.50v1.5M671.24 457.40v-1.5M671.24 255.50v1.5M686.91 457.40v-1.5M686.91 255.50v1.5M702.58 457.40v-2.4M702.58 255.50v2.4M718.25 457.40v-1.5M718.25 255.50v1.5M733.92 457.40v-1.5M733.92 255.50v1.5M749.58 457.40v-1.5M749.58 255.50v1.5M765.25 457.40v-1.5M765.25 255.50v1.5M780.92 457.40v-2.4M780.92 255.50v2.4M461.00 455.25h1.5M787.50 455.25h-1.5M461.00 446.62h1.5M787.50 446.62h-1.5M461.00 438.00h2.4M787.50 438.00h-2.4M461.00 429.38h1.5M787.50 429.38h-1.5M461.00 420.75h1.5M787.50 420.75h-1.5M461.00 412.12h1.5M787.50 412.12h-1.5M461.00 403.50h2.4M787.50 403.50h-2.4M461.00 394.87h1.5M787.50 394.87h-1.5M461.00 386.25h1.5M787.50 386.25h-1.5M461.00 377.63h1.5M787.50 377.63h-1.5M461.00 369.00h2.4M787.50 369.00h-2.4M461.00 360.37h1.5M787.50 360.37h-1.5M461.00 351.75h1.5M787.50 351.75h-1.5M461.00 343.13h1.5M787.50 343.13h-1.5M461.00 334.50h2.4M787.50 334.50h-2.4M461.00 325.87h1.5M787.50 325.87h-1.5M461.00 317.25h1.5M787.50 317.25h-1.5M461.00 308.62h1.5M787.50 308.62h-1.5M461.00 300.00h2.4M787.50 300.00h-2.4M461.00 291.38h1.5M787.50 291.38h-1.5M461.00 282.75h1.5M787.50 282.75h-1.5M461.00 274.12h1.5M787.50 274.12h-1.5M461.00 265.50h2.4M787.50 265.50h-2.4M461.00 256.87h1.5M787.50 256.87h-1.5" class="tick"/>
<rect x="461.00" y="255.50" width="326.50" height="201.90" class="frame"/>
<path d="M545.90 457.40V255.50M624.45 457.40V255.50M702.45 457.40V255.50M461.00 438.00H787.50M461.00 403.45H787.50M461.00 369.00H787.50M461.00 334.50H787.50M461.00 300.40H787.50M461.00 265.50H787.50" class="grid"/>
<path d="M467.20 265.53 L468.52 267.57 L469.83 269.60 L471.15 271.64 L472.46 273.68 L473.78 275.73 L475.09 277.77 L476.41 279.82 L477.72 281.88 L479.04 283.93 L480.35 285.99 L481.67 288.05 L482.98 290.11 L484.30 292.17 L485.61 294.24 L486.93 296.31 L488.24 298.38 L489.56 300.45 L490.87 302.52 L492.19 304.59 L493.50 306.67 L494.82 308.75 L496.13 310.83 L497.45 312.91 L498.76 314.99 L500.08 317.07 L501.39 319.15 L502.71 321.24 L504.02 323.32 L505.34 325.39 L506.65 327.46 L507.97 329.52 L509.28 331.57 L510.60 333.61 L511.91 335.63 L513.23 337.63 L514.54 339.61 L515.86 341.57 L517.17 343.51 L518.49 345.42 L519.80 347.31 L521.12 349.16 L522.43 350.98 L523.75 352.77 L525.06 354.53 L526.38 356.25 L527.69 357.94 L529.01 359.59 L530.32 361.21 L531.64 362.78 L532.95 364.32 L534.27 365.82 L535.58 367.27 L536.90 368.68 L538.21 370.05 L539.53 371.37 L540.84 372.65 L542.16 373.88 L543.47 375.07 L544.79 376.21 L546.10 377.30 L547.42 378.34 L548.73 379.35 L550.05 380.30 L551.36 381.21 L552.68 382.07 L553.99 382.88 L555.31 383.65 L556.62 384.38 L557.94 385.07 L559.25 385.72 L560.57 386.33 L561.88 386.90 L563.20 387.45 L564.51 387.95 L565.83 388.43 L567.14 388.88 L568.46 389.30 L569.77 389.70 L571.09 390.07 L572.41 390.42 L573.72 390.75 L575.04 391.06 L576.35 391.35 L577.67 391.63 L578.98 391.90 L580.30 392.15 L581.61 392.40 L582.93 392.63 L584.24 392.86 L585.56 393.08 L586.87 393.30 L588.19 393.52 L589.50 393.74 L590.82 393.96 L592.13 394.19 L593.45 394.42 L594.76 394.66 L596.08 394.90 L597.39 395.16 L598.71 395.42 L600.02 395.70 L601.34 395.98 L602.65 396.28 L603.97 396.59 L605.28 396.91 L606.60 397.25 L607.91 397.60 L609.23 397.96 L610.54 398.34 L611.86 398.74 L613.17 399.15 L614.49 399.58 L615.80 400.03 L617.12 400.50 L618.43 400.98 L619.75 401.49 L621.06 402.02 L622.38 402.56 L623.69 403.13 L625.01 403.73 L626.32 404.34 L627.64 404.98 L628.95 405.64 L630.27 406.32 L631.58 407.03 L632.90 407.75 L634.21 408.49 L635.53 409.25 L636.84 410.03 L638.16 410.82 L639.47 411.63 L640.79 412.45 L642.10 413.28 L643.42 414.13 L644.73 414.98 L646.05 415.85 L647.36 416.73 L648.68 417.62 L649.99 418.51 L651.31 419.41 L652.62 420.31 L653.94 421.22 L655.25 422.14 L656.57 423.05 L657.88 423.97 L659.20 424.87 L660.51 425.78 L661.83 426.67 L663.14 427.54 L664.46 428.40 L665.77 429.24 L667.09 430.06 L668.40 430.86 L669.72 431.62 L671.03 432.35 L672.35 433.05 L673.66 433.72 L674.98 434.34 L676.29 434.92 L677.61 435.45 L678.93 435.94 L680.24 436.38 L681.56 436.76 L682.87 437.09 L684.19 437.37 L685.50 437.58 L686.82 437.74 L688.13 437.83 L689.45 437.86 L690.76 437.82 L692.08 437.71 L693.39 437.53 L694.71 437.27 L696.02 436.94 L697.34 436.53 L698.65 436.05 L699.97 435.49 L701.28 434.86 L702.60 434.16 L703.91 433.38 L705.23 432.53 L706.54 431.60 L707.86 430.61 L709.17 429.55 L710.49 428.41 L711.80 427.21 L713.12 425.94 L714.43 424.60 L715.75 423.20 L717.06 421.74 L718.38 420.21 L719.69 418.62 L721.01 416.98 L722.32 415.28 L723.64 413.52 L724.95 411.71 L726.27 409.85 L727.58 407.93 L728.90 405.97 L730.21 403.96 L731.53 401.90 L732.84 399.80 L734.16 397.66 L735.47 395.47 L736.79 393.24 L738.10 390.98 L739.42 388.68 L740.73 386.34 L742.05 383.97 L743.36 381.57 L744.68 379.13 L745.99 376.67 L747.31 374.18 L748.62 371.66 L749.94 369.12 L751.25 366.56 L752.57 363.97 L753.88 361.37 L755.20 358.75 L756.51 356.11 L757.83 353.47 L759.14 350.81 L760.46 348.14 L761.77 345.47 L763.09 342.79 L764.40 340.11 L765.72 337.43 L767.03 334.76 L768.35 332.08 L769.66 329.42 L770.98 326.76 L772.29 324.11 L773.61 321.47 L774.92 318.85 L776.24 316.24 L777.55 313.66 L778.87 311.09 L780.18 308.55 L781.50 306.03" fill="none" stroke="#000000" stroke-width="2.3" stroke-linejoin="round" stroke-linecap="square"/>
<text x="458.8" y="442.2" text-anchor="end" class="tl">4.330</text>
<text x="458.8" y="407.7" text-anchor="end" class="tl">4.332</text>
<text x="458.8" y="373.2" text-anchor="end" class="tl">4.334</text>
<text x="458.8" y="338.7" text-anchor="end" class="tl">4.336</text>
<text x="458.8" y="304.2" text-anchor="end" class="tl">4.338</text>
<text x="458.8" y="269.7" text-anchor="end" class="tl">4.340</text>
<text x="468.0" y="470.2" text-anchor="middle" class="tl">−2</text>
<text x="546.3" y="470.2" text-anchor="middle" class="tl">−1</text>
<text x="624.3" y="470.2" text-anchor="middle" class="tl">0</text>
<text x="702.7" y="470.2" text-anchor="middle" class="tl">1</text>
<text x="781.0" y="470.2" text-anchor="middle" class="tl">2</text>
<g transform="translate(610.00 487.10)"><text transform="translate(-0.34 0.00)" font-size="11.5" class="al">Δ</text><path d="M8.00 0.30h1.05L10.60 -8.00h-1.05Z" fill="#666666" stroke="#666666" stroke-width="0.25"/><text transform="translate(11.97 0.00) scale(0.94 1)" font-size="11.5" font-style="italic" class="al">ω</text><text transform="translate(21.07 1.80)" font-size="8.5" font-style="italic" class="al sb">m</text></g>
<g transform="translate(423.20 362.80) rotate(-90)"><text transform="translate(-0.34 0.00)" font-size="11.5" font-style="italic" class="al">E</text><text transform="translate(7.07 2.00) scale(0.9 1)" font-size="8.5" font-style="italic" class="al sb">N</text></g>
<text x="468.92" y="270.6" class="tag">(</text><text transform="translate(473.10 271.35) scale(1 1.035)" class="tag">d</text><text x="481.57" y="270.6" class="tag">)</text>
</g>
</svg>
</body></html>
